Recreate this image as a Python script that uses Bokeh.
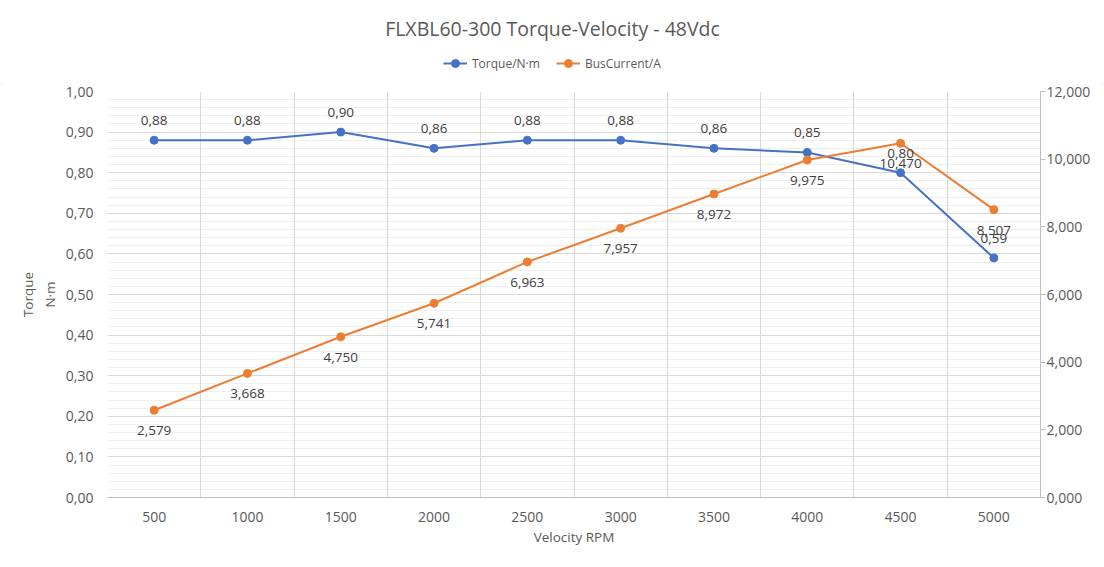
from bokeh.plotting import figure
from bokeh.layouts import column
from bokeh.models import (Range1d, FactorRange, LinearAxis, SingleIntervalTicker, FixedTicker,
                          CustomJSTickFormatter, Legend, LegendItem, Grid, ColumnDataSource, Label)
from bokeh.embed import file_html
from bokeh.resources import INLINE
from bokeh.core.properties import value

speeds = ["500", "1000", "1500", "2000", "2500", "3000", "3500", "4000", "4500", "5000"]
torque = [0.88, 0.88, 0.90, 0.86, 0.88, 0.88, 0.86, 0.85, 0.80, 0.59]
current = [2.579, 3.668, 4.750, 5.741, 6.963, 7.957, 8.972, 9.975, 10.470, 8.507]

series_names = ["Torque/N·m", "BusCurrent/A"]
chart_title = "FLXBL60-300 Torque-Velocity - 48Vdc"

torque_labels = [f"{v:.2f}".replace(".", ",") for v in torque]
current_labels = [f"{v:.3f}".replace(".", ",") for v in current]

FONT = "Open Sans"
TXT = "#595959"
BLUE = "#4472C4"
ORANGE = "#ED7D31"
W = 1104
HEAD_H = 83
LEFT = 107
RIGHT = 1040
FRAME_W = RIGHT - LEFT

# ---------- header (title + legend); its frame is aligned with the main frame ----------
h = figure(width=W, height=HEAD_H, x_range=Range1d(0, FRAME_W), y_range=Range1d(0, HEAD_H),
           x_axis_type=None, y_axis_type=None, output_backend="svg", toolbar_location=None,
           min_border=0, min_border_left=LEFT, min_border_right=W - RIGHT)
h.outline_line_color = None
h.xgrid.visible = False
h.ygrid.visible = False
h.add_layout(Label(x=W / 2 - LEFT, y=HEAD_H - 28, text=chart_title, text_align="center",
                   text_baseline="middle", text_font=FONT, text_font_size="19.5px",
                   text_color=TXT))
# legend sample renderers (kept outside the visible range)
dl1 = h.line(x=[-50, -40], y=[-50, -50], line_color=BLUE, line_width=2)
dc1 = h.scatter(x=[-50], y=[-50], size=8, fill_color=BLUE, line_color=BLUE)
dl2 = h.line(x=[-50, -40], y=[-50, -50], line_color=ORANGE, line_width=2)
dc2 = h.scatter(x=[-50], y=[-50], size=8, fill_color=ORANGE, line_color=ORANGE)
legend = Legend(items=[LegendItem(label=series_names[0], renderers=[dl1, dc1]),
                       LegendItem(label=series_names[1], renderers=[dl2, dc2])],
                orientation="horizontal", location=(443 - LEFT, 10))
legend.label_text_font = FONT
legend.label_text_font_size = "12px"
legend.label_text_color = TXT
legend.border_line_color = None
legend.background_fill_alpha = 0
legend.glyph_width = 24
legend.glyph_height = 20
legend.label_standoff = 5
legend.spacing = 16
legend.padding = 0
legend.margin = 0
h.add_layout(legend, "center")

# ---------- main chart ----------
src = ColumnDataSource(dict(x=speeds, t=torque, c=current, tl=torque_labels, cl=current_labels))

MAIN_H = 567 - HEAD_H
p = figure(width=W, height=MAIN_H, x_range=FactorRange(factors=speeds), y_range=Range1d(0, 1),
           output_backend="svg", toolbar_location=None,
           min_border_left=LEFT, min_border_right=W - RIGHT, min_border_top=8,
           min_border_bottom=MAIN_H - 8 - 406)
p.extra_y_ranges = {"cur": Range1d(0, 12)}
p.outline_line_color = None
p.background_fill_color = "white"

# grids
p.xgrid.grid_line_color = None
p.add_layout(Grid(dimension=0, ticker=FixedTicker(ticks=list(range(0, 11))),
                  grid_line_color="#d9d9d9"))
yt = SingleIntervalTicker(interval=0.1, num_minor_ticks=5)
p.ygrid.ticker = yt
p.ygrid.grid_line_color = "#d9d9d9"
p.ygrid.minor_grid_line_color = "#efefef"

# left axis
p.yaxis.ticker = yt
p.yaxis.formatter = CustomJSTickFormatter(code="return tick.toFixed(2).replace('.', ',');")
p.yaxis.axis_label = "Torque\nN·m"
p.yaxis.axis_line_color = None
p.yaxis.major_tick_line_color = None
p.yaxis.minor_tick_line_color = None

# right axis
ra = LinearAxis(y_range_name="cur", ticker=SingleIntervalTicker(interval=2, num_minor_ticks=0),
                formatter=CustomJSTickFormatter(code="return tick.toFixed(3).replace('.', ',');"))
ra.axis_line_color = "#bfbfbf"
ra.major_tick_line_color = "#bfbfbf"
ra.major_tick_out = 5
ra.major_tick_in = 0
ra.minor_tick_line_color = None
p.add_layout(ra, "right")

# x axis
p.xaxis.axis_label = "Velocity RPM"
p.xaxis.axis_line_color = "#bfbfbf"
p.xaxis.major_tick_line_color = None
p.xaxis.minor_tick_line_color = None

for ax in [p.xaxis[0], p.yaxis[0], ra]:
    ax.major_label_text_font = FONT
    ax.major_label_text_font_size = "14px"
    ax.major_label_text_color = TXT
    ax.axis_label_text_font = FONT
    ax.axis_label_text_font_size = "13.5px"
    ax.axis_label_text_font_style = "normal"
    ax.axis_label_text_color = TXT
p.xaxis.major_label_standoff = 8
p.xaxis.axis_label_standoff = 3
p.yaxis.major_label_standoff = 8
p.yaxis.axis_label_standoff = 4
ra.major_label_standoff = 1

l1 = p.line("x", "t", source=src, line_color=BLUE, line_width=2)
c1 = p.scatter("x", "t", source=src, size=8, fill_color=BLUE, line_color=BLUE)
l2 = p.line("x", "c", source=src, line_color=ORANGE, line_width=2, y_range_name="cur")
c2 = p.scatter("x", "c", source=src, size=8, fill_color=ORANGE, line_color=ORANGE, y_range_name="cur")

p.text("x", "t", text="tl", source=src, text_font=value(FONT), text_font_size="13.5px",
       text_color="#404040", text_align="center", text_baseline="bottom", y_offset=-15)
p.text("x", "c", text="cl", source=src, text_font=value(FONT), text_font_size="13.5px",
       text_color="#404040", text_align="center", text_baseline="top", y_offset=16,
       y_range_name="cur")

layout = column(h, p, spacing=0,
                styles={"outline": "1px solid #d9d9d9", "outline-offset": "-2px"})
open("out.html", "w").write(file_html(layout, INLINE))
